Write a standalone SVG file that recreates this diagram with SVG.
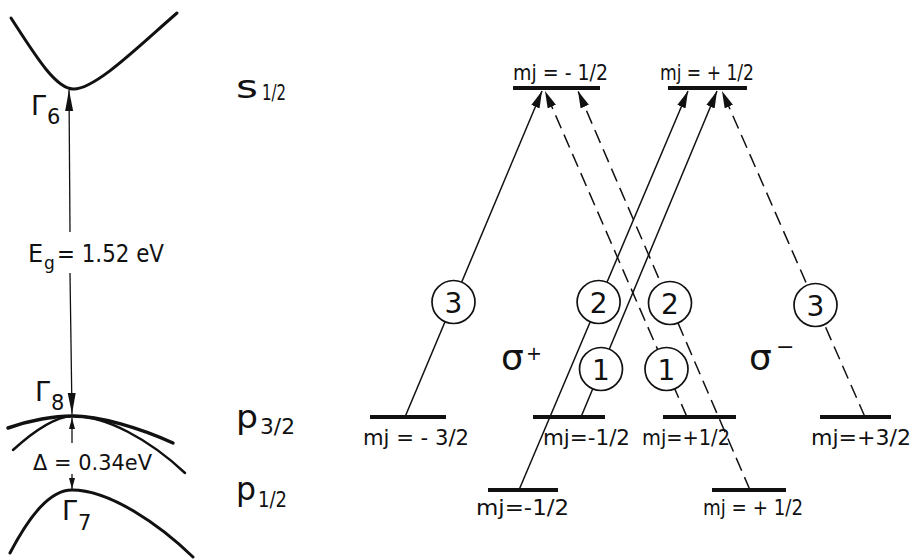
<svg xmlns="http://www.w3.org/2000/svg" width="913" height="560" viewBox="0 0 913 560">
<defs>
<marker id="ah" markerUnits="userSpaceOnUse" markerWidth="18" markerHeight="10" refX="17" refY="5" orient="auto"><path d="M0,0.5 L17,5 L0,9.5 Z" fill="#111"/></marker>
<marker id="ahL" markerUnits="userSpaceOnUse" markerWidth="22" markerHeight="10" refX="21" refY="5" orient="auto"><path d="M0,1 L21,5 L0,9 Z" fill="#111"/></marker>
<marker id="ahS" markerUnits="userSpaceOnUse" markerWidth="12" markerHeight="8" refX="11" refY="4" orient="auto"><path d="M0,1 L11,4 L0,7 Z" fill="#111"/></marker>
</defs>
<style>
text{font-family:"DejaVu Sans","Liberation Sans",sans-serif;fill:#111}
.lvl{stroke:#111;stroke-width:4}
.tr{stroke:#111;stroke-width:1.5;fill:none}
.dash{stroke-dasharray:14 7}
.circ{fill:#fff;stroke:#111;stroke-width:1.7}
.band{fill:none;stroke:#111;stroke-width:3;stroke-linecap:round}
.ax{stroke:#111;stroke-width:1.3;fill:none}
.mj{font-size:22px}
.num{font-size:28px;text-anchor:middle}
</style>
<rect width="913" height="560" fill="#fff"/>

<g id="band-diagram">
<path class="band" d="M11,18 C35,55 55,88 73,89 C95,90 140,45 177,13"/>
<path class="band" style="stroke-width:3.5" d="M8,428 C30,420 55,416 72,416 C100,416 140,428 173,443"/>
<path class="band" style="stroke-width:2.5" d="M13,450 C35,430 55,417 72,416 C105,415 150,440 185,473"/>
<path class="band" d="M10,553 C30,515 50,490 72,490 C110,490 160,525 193,557"/>
<line class="ax" x1="70" y1="232" x2="69" y2="90" marker-end="url(#ahL)"/>
<line class="ax" x1="70" y1="273" x2="72" y2="414" marker-end="url(#ahL)"/>
<line class="ax" x1="72" y1="443" x2="72" y2="418" marker-end="url(#ahS)"/>
<line class="ax" x1="72" y1="474" x2="72" y2="489" marker-end="url(#ahS)"/>
<text x="31" y="115" font-size="27">Γ</text><text x="47" y="124" font-size="21">6</text>
<text x="35" y="401" font-size="27">Γ</text><text x="51" y="410" font-size="21">8</text>
<text x="62" y="520" font-size="27">Γ</text><text x="78" y="530" font-size="21">7</text>
<text x="28" y="262" font-size="24">E</text><text x="44" y="269" font-size="17">g</text>
<text x="57" y="262" font-size="24" textLength="107" lengthAdjust="spacingAndGlyphs">= 1.52 eV</text>
<text x="33" y="470" font-size="22" textLength="119" lengthAdjust="spacingAndGlyphs">Δ = 0.34eV</text>
</g>

<g id="term-labels">
<text x="236" y="98" font-size="32" textLength="22" lengthAdjust="spacingAndGlyphs">s</text>
<text x="262" y="100" font-size="21" textLength="24" lengthAdjust="spacingAndGlyphs">1/2</text>
<text x="236" y="428" font-size="32" textLength="22" lengthAdjust="spacingAndGlyphs">p</text>
<text x="260" y="434" font-size="21" textLength="35" lengthAdjust="spacingAndGlyphs">3/2</text>
<text x="236" y="500" font-size="32" textLength="20" lengthAdjust="spacingAndGlyphs">p</text>
<text x="258" y="507" font-size="21" textLength="29" lengthAdjust="spacingAndGlyphs">1/2</text>
</g>

<g id="connectors">
<line class="tr" x1="405" y1="417" x2="542" y2="91" marker-end="url(#ah)"/>
<line class="tr" x1="519" y1="490" x2="688" y2="91" marker-end="url(#ah)"/>
<line class="tr" x1="581" y1="417" x2="717" y2="91" marker-end="url(#ah)"/>
<line class="tr dash" x1="687" y1="417" x2="545" y2="91" marker-end="url(#ah)"/>
<line class="tr dash" x1="750" y1="490" x2="578" y2="91" marker-end="url(#ah)"/>
<line class="tr dash" x1="865" y1="417" x2="722" y2="91" marker-end="url(#ah)"/>
</g>

<g id="s-minus-half"><line class="lvl" x1="513" y1="88" x2="600" y2="88"/><text class="mj" x="513" y="80" textLength="95" lengthAdjust="spacingAndGlyphs">mj = - 1/2</text></g>
<g id="s-plus-half"><line class="lvl" x1="668" y1="88" x2="747" y2="88"/><text class="mj" x="660" y="80" textLength="94" lengthAdjust="spacingAndGlyphs">mj = + 1/2</text></g>
<g id="p32-minus-3half"><line class="lvl" x1="370" y1="417" x2="446" y2="417"/><text class="mj" x="363" y="445" textLength="106" lengthAdjust="spacingAndGlyphs">mj = - 3/2</text></g>
<g id="p32-minus-half"><line class="lvl" x1="533" y1="417" x2="605" y2="417"/><text class="mj" x="543" y="445" textLength="87" lengthAdjust="spacingAndGlyphs">mj=-1/2</text></g>
<g id="p32-plus-half"><line class="lvl" x1="663" y1="417" x2="736" y2="417"/><text class="mj" x="642" y="445" textLength="88" lengthAdjust="spacingAndGlyphs">mj=+1/2</text></g>
<g id="p32-plus-3half"><line class="lvl" x1="820" y1="417" x2="891" y2="417"/><text class="mj" x="811" y="445" textLength="100" lengthAdjust="spacingAndGlyphs">mj=+3/2</text></g>
<g id="p12-minus-half"><line class="lvl" x1="488" y1="490" x2="558" y2="490"/><text class="mj" x="476" y="515" textLength="93" lengthAdjust="spacingAndGlyphs">mj=-1/2</text></g>
<g id="p12-plus-half"><line class="lvl" x1="712" y1="490" x2="786" y2="490"/><text class="mj" x="703" y="515" textLength="100" lengthAdjust="spacingAndGlyphs">mj = + 1/2</text></g>

<g id="w3-left"><circle class="circ" cx="453.5" cy="302" r="21.5"/><text class="num" x="453.5" y="312.5">3</text></g>
<g id="w2-left"><circle class="circ" cx="598.6" cy="302" r="21.5"/><text class="num" x="598.6" y="312.5">2</text></g>
<g id="w1-left"><circle class="circ" cx="601" cy="369" r="21.5"/><text class="num" x="601" y="379.5">1</text></g>
<g id="w2-right"><circle class="circ" cx="670" cy="303" r="21.5"/><text class="num" x="670" y="313.5">2</text></g>
<g id="w1-right"><circle class="circ" cx="666.5" cy="369" r="21.5"/><text class="num" x="666.5" y="379.5">1</text></g>
<g id="w3-right"><circle class="circ" cx="815.5" cy="305" r="21.5"/><text class="num" x="815.5" y="315.5">3</text></g>

<g id="sigma-plus"><text x="501" y="370" font-size="36">σ</text><text x="526" y="360" font-size="19">+</text></g>
<g id="sigma-minus"><text x="749" y="370" font-size="36">σ</text><text x="776" y="354" font-size="22">−</text></g>
</svg>
